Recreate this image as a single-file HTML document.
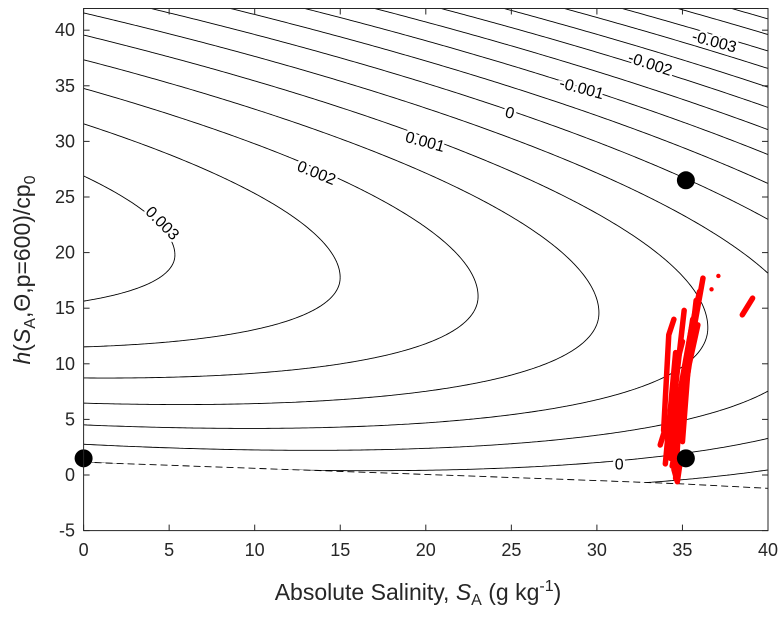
<!DOCTYPE html>
<html><head><meta charset="utf-8">
<style>
html,body{margin:0;padding:0;background:#fff;}
svg{display:block;font-family:"Liberation Sans",sans-serif;}
</style></head>
<body>
<svg id="chart" width="780" height="618" viewBox="0 0 780 618">
  <defs>
    <clipPath id="plotclip"><rect x="83.6" y="8.5" width="684.4" height="522.1"/></clipPath>
    <clipPath id="aboveclip"><polygon id="abovepoly" points="0,0"/></clipPath>
  </defs>
  <rect x="0" y="0" width="780" height="618" fill="#fff"/>
  <g clip-path="url(#plotclip)"><g id="contours" clip-path="url(#aboveclip)"></g></g>
  <g id="dashed" clip-path="url(#plotclip)"></g>
  <g id="red" clip-path="url(#plotclip)"></g>
  <g id="labels"></g>
  <g id="dots"></g>
  <g id="axes"></g>
  <text x="418" y="600" text-anchor="middle" font-size="23" fill="#262626">Absolute Salinity, <tspan font-style="italic">S</tspan><tspan font-size="16" dy="5">A</tspan><tspan dy="-5"> (g kg</tspan><tspan font-size="16" dy="-9">-1</tspan><tspan dy="9">)</tspan></text>
  <text transform="translate(30,270) rotate(-90)" text-anchor="middle" font-size="23" fill="#262626"><tspan font-style="italic">h</tspan>(<tspan font-style="italic">S</tspan><tspan font-size="16" dy="5">A</tspan><tspan dy="-5">,Θ,p=600)/cp</tspan><tspan font-size="16" dy="5">0</tspan></text>
</svg>
<script>
// ---- data ----
const levels = [0.003,0.0025,0.002,0.0015,0.001,0.0005,0,-0.0005,-0.001,-0.0015,-0.002,-0.0025,-0.003,-0.0035,-0.004,-0.0045,-0.005,-0.0055,-0.006];
const fPeak = [0.00323];
const gCoef = [4.0e-5, 5.79e-7];
const centerCoef = [20.9, -0.21];
const curvTop = [6.4e-6];
const curvBottom = [8.3e-6];
const xTicks = [0,5,10,15,20,25,30,35,40];
const yTicks = [-5,0,5,10,15,20,25,30,35,40];
const dashS = [0,10,20,30,35,40];
const dashY = [1.15,0.6,0.05,-0.5,-0.8,-1.2];
const dotS = [0,35.2,35.2];
const dotY = [1.5,26.5,1.5];
const streakS = [[33.9,34.2,34.5],[34.2,34.6,35.1],[34.6,34.8,35.3,36.2],[35.0,35.3,35.8],[34.3,34.8,35.5,36.0],[33.7,34.0],[38.5,39.1],[34.5,34.7,34.9],[34.0,34.3,34.6],[34.4,34.9,35.4,35.9],[34.1,34.5,35.0],[34.8,35.2,35.6]];
const streakY = [[4,12.6,14],[2.5,8,14.8],[-0.3,5,10,17.7],[3,9,15.7],[1.5,7,13,16.5],[2.7,4.2],[14.4,15.9],[0.5,-0.6,1.5],[1.0,6,11],[0.8,5,10,13.5],[2.0,9,12],[3.5,10,14]];
const pointS = [37.1,36.7];
const pointY = [17.9,16.7];
const labelText = ["0.003","0.002","0.001","0","-0.001","-0.002","-0.003","0"];
const labelS = [4.57,13.6,19.95,24.9,29.1,33.1,36.85,31.3];
const labelY = [22.6,27.1,29.9,32.5,34.7,36.9,38.9,0.9];
const labelAngle = [45,22,15,15,15,18,15,0];

// ---- axes ----
const X0=83.6, X1=768, Y0=530.6, Y1=8.5;
const xmin=0,xmax=40,ymin=-5,ymax=41.95;
const sx = s => X0 + (s-xmin)/(xmax-xmin)*(X1-X0);
const sy = y => Y0 - (y-ymin)/(ymax-ymin)*(Y0-Y1);
const NS="http://www.w3.org/2000/svg";
function mk(tag, attrs, parent){const e=document.createElementNS(NS,tag);for(const k in attrs)e.setAttribute(k,attrs[k]);parent.appendChild(e);return e;}

// clip region above freezing line
document.getElementById('abovepoly').setAttribute('points',
  [[sx(dashS[0])-20,sy(dashY[0])]].concat(dashS.map((s,i)=>[sx(s),sy(dashY[i])]))
  .concat([[sx(dashS[dashS.length-1])+20,sy(dashY[dashY.length-1])],[800,-10],[-20,-10]])
  .map(p=>p[0]+","+p[1]).join(" "));

function F(s,y){
  const g=gCoef[0]*s+gCoef[1]*s*s;
  const c=centerCoef[0]+centerCoef[1]*s;
  const k= y>c?curvTop[0]:curvBottom[0];
  return fPeak[0]-g-k*(y-c)*(y-c);
}
const cg=document.getElementById('contours');
const ds=0.2, dy=0.2;
const nS=Math.round(42/ds), nY=Math.round(49/dy);
const grid=[];
for(let i=0;i<=nS;i++){grid.push([]);for(let j=0;j<=nY;j++)grid[i].push(F(-1+i*ds,-6+j*dy));}
levels.forEach(L=>{
  let d="";
  for(let i=0;i<nS;i++)for(let j=0;j<nY;j++){
    const s0=-1+i*ds,y0=-6+j*dy;
    const v=[grid[i][j],grid[i+1][j],grid[i+1][j+1],grid[i][j+1]];
    const p=[[s0,y0],[s0+ds,y0],[s0+ds,y0+dy],[s0,y0+dy]];
    const pts=[];
    for(let e=0;e<4;e++){
      const a=v[e],b=v[(e+1)%4];
      if((a>L)!==(b>L)){
        const t=(L-a)/(b-a);
        const pa=p[e],pb=p[(e+1)%4];
        pts.push([pa[0]+t*(pb[0]-pa[0]),pa[1]+t*(pb[1]-pa[1])]);
      }
    }
    for(let q=0;q+1<pts.length;q+=2){
      d+="M"+sx(pts[q][0]).toFixed(2)+" "+sy(pts[q][1]).toFixed(2)+"L"+sx(pts[q+1][0]).toFixed(2)+" "+sy(pts[q+1][1]).toFixed(2);
    }
  }
  const path=mk('path',{d:d,fill:'none',stroke:'#000','stroke-width':'0.9'},cg);
  
  
});

const dg=document.getElementById('dashed');
const dl=mk('polyline',{points:dashS.map((s,i)=>sx(s)+","+sy(dashY[i])).join(" "),fill:'none',stroke:'#000','stroke-width':'0.9','stroke-dasharray':'7 4'},dg);



const rg=document.getElementById('red');
streakS.forEach((arr,i)=>{
  const pl=mk('polyline',{points:arr.map((s,k)=>sx(s)+","+sy(streakY[i][k])).join(" "),fill:'none',stroke:'#ff0000','stroke-width':'5.5','stroke-linecap':'round','stroke-linejoin':'round'},rg);
  
  
});
pointS.forEach((s,i)=>{
  const c=mk('circle',{cx:sx(s),cy:sy(pointY[i]),r:2.2,fill:'#ff0000'},rg);
  
  
});

const lg=document.getElementById('labels');
labelText.forEach((t,i)=>{
  const x=sx(labelS[i]),y=sy(labelY[i]);
  const tx=mk('text',{x:x,y:y,'text-anchor':'middle','dominant-baseline':'central','font-size':'16',fill:'#000',stroke:'#fff','stroke-width':'5','paint-order':'stroke',transform:`rotate(${labelAngle[i]} ${x} ${y})`},lg);
  tx.textContent=t;
  
  
});

const og=document.getElementById('dots');
dotS.forEach((s,i)=>{
  const c=mk('circle',{cx:sx(s),cy:sy(dotY[i]),r:9,fill:'#000'},og);
  
  
});

const ag=document.getElementById('axes');
const box=mk('rect',{x:X0,y:Y1,width:X1-X0,height:Y0-Y1,fill:'none',stroke:'#262626','stroke-width':'1'},ag);


xTicks.forEach(v=>{
  const x=sx(v);
  const t1=mk('line',{x1:x,x2:x,y1:Y0,y2:Y0-6,stroke:'#262626'},ag);
  
  
  const t2=mk('line',{x1:x,x2:x,y1:Y1,y2:Y1+6,stroke:'#262626'},ag);
  
  
  const lb=mk('text',{x:x,y:556,'text-anchor':'middle','font-size':'18',fill:'#262626'},ag);
  lb.textContent=v;
  
  
});
yTicks.forEach(v=>{
  const y=sy(v);
  const t1=mk('line',{x1:X0,x2:X0+6,y1:y,y2:y,stroke:'#262626'},ag);
  
  
  const t2=mk('line',{x1:X1,x2:X1-6,y1:y,y2:y,stroke:'#262626'},ag);
  
  
  const lb=mk('text',{x:75,y:y+6,'text-anchor':'end','font-size':'18',fill:'#262626'},ag);
  lb.textContent=v;
  
  
});
</script>
</body></html>
